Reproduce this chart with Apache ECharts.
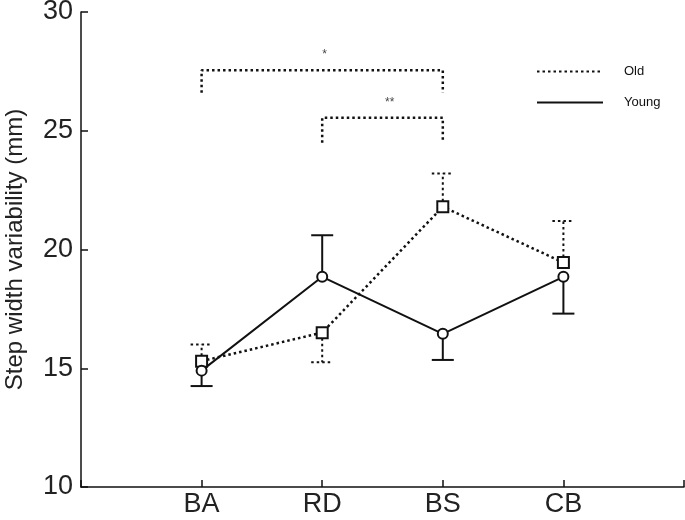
<!DOCTYPE html>
<html><head><meta charset="utf-8">
<script src="https://cdn.jsdelivr.net/npm/echarts@6/dist/echarts.min.js"></script>
<style>html,body{margin:0;padding:0;background:#fff}#c{width:685px;height:520px}</style>
</head><body><div id="c"></div>
<script>
var categories = ['BA', 'RD', 'BS', 'CB'];
var oldMean = [15.3, 16.5, 21.8, 19.45];
var oldErrEnd = [16.0, 15.25, 23.2, 21.2];
var youngMean = [14.9, 18.85, 16.45, 18.85];
var youngErrEnd = [14.25, 20.6, 15.35, 17.3];
var yTicks = [10, 15, 20, 25, 30];
var bracket1 = [[1, 26.6], [1, 27.55], [3, 27.55], [3, 26.6]];
var bracket2 = [[2, 24.5], [2, 25.55], [3, 25.55], [3, 24.5]];
var sigLabels = [{ value: [2.02, 28.2], name: '*' }, { value: [2.56, 26.2], name: '**' }];

var INK = '#111';
var DOT = [2.5, 3];

function pts(arr) { return arr.map(function (v, i) { return [i + 1, v]; }); }
function errData(mean, end) { return mean.map(function (v, i) { return [i + 1, v, end[i]]; }); }
function errRender(dashed) {
  return function (params, api) {
    var x = api.value(0);
    var p0 = api.coord([x, api.value(1)]);
    var p1 = api.coord([x, api.value(2)]);
    var style = { stroke: INK, lineWidth: 2, lineDash: dashed ? DOT : null };
    return {
      type: 'group', children: [
        { type: 'line', shape: { x1: p0[0], y1: p0[1], x2: p1[0], y2: p1[1] }, style: style },
        { type: 'line', shape: { x1: p1[0] - 11, y1: p1[1], x2: p1[0] + 11, y2: p1[1] }, style: style }
      ]
    };
  };
}

var chart = echarts.init(document.getElementById('c'));
chart.setOption({
  animation: false,
  backgroundColor: '#fff',
  textStyle: { fontFamily: 'Liberation Sans, Arial, sans-serif' },
  grid: { left: 81, right: 1, top: 12, bottom: 33, containLabel: false, outerBoundsMode: 'none' },
  legend: {
    data: ['Old', 'Young'],
    orient: 'vertical', left: 531, top: 60,
    itemWidth: 66, itemHeight: 14, itemGap: 18,
    itemStyle: { opacity: 0 },
    textStyle: { fontSize: 13, color: INK, padding: [0, 0, 0, 16] },
    selectedMode: false
  },
  xAxis: {
    type: 'value', min: 0, max: 5, interval: 1,
    axisLine: { lineStyle: { color: INK, width: 1.5 } },
    axisTick: { inside: true, length: 7, lineStyle: { color: INK, width: 1.5 } },
    splitLine: { show: false },
    axisLabel: {
      fontSize: 27, color: '#222', margin: 4,
      formatter: function (v) { return categories[v - 1] || ''; }
    }
  },
  yAxis: {
    type: 'value', min: yTicks[0], max: yTicks[yTicks.length - 1], interval: 5,
    name: 'Step width variability (mm)', nameLocation: 'middle', nameGap: 54,
    nameMoveOverlap: false,
    nameTextStyle: { fontSize: 24, color: '#222' },
    axisLine: { show: true, lineStyle: { color: INK, width: 1.5 } },
    axisTick: { show: true, inside: true, length: 7, lineStyle: { color: INK, width: 1.5 } },
    splitLine: { show: false },
    axisLabel: { fontSize: 27, color: '#222', margin: 8 }
  },
  series: [
    { name: 'Old', type: 'line', data: [], symbol: 'none', lineStyle: { color: INK, width: 2.5, type: DOT }, itemStyle: { color: INK } },
    { name: 'Young', type: 'line', data: [], symbol: 'none', lineStyle: { color: INK, width: 2.5 }, itemStyle: { color: INK } },
    { name: 'oldErr', type: 'custom', renderItem: errRender(true), data: errData(oldMean, oldErrEnd), z: 1 },
    { name: 'youngErr', type: 'custom', renderItem: errRender(false), data: errData(youngMean, youngErrEnd), z: 1 },
    {
      name: 'oldLine', type: 'line', data: pts(oldMean), z: 3,
      symbol: 'rect', symbolSize: 11, showAllSymbol: true,
      lineStyle: { color: INK, width: 2.5, type: DOT },
      itemStyle: { color: '#fff', borderColor: INK, borderWidth: 2 }
    },
    {
      name: 'youngLine', type: 'line', data: pts(youngMean), z: 3,
      symbol: 'circle', symbolSize: 10, showAllSymbol: true,
      lineStyle: { color: INK, width: 2 },
      itemStyle: { color: '#fff', borderColor: INK, borderWidth: 2 }
    },
    { name: 'br1', type: 'line', data: bracket1, symbol: 'none', lineStyle: { color: INK, width: 2.5, type: DOT } },
    { name: 'br2', type: 'line', data: bracket2, symbol: 'none', lineStyle: { color: INK, width: 2.5, type: DOT } },
    {
      name: 'sig', type: 'scatter', data: sigLabels, symbolSize: 0,
      label: { show: true, position: 'inside', formatter: '{b}', fontSize: 12, color: INK }
    }
  ]
});
</script></body></html>
